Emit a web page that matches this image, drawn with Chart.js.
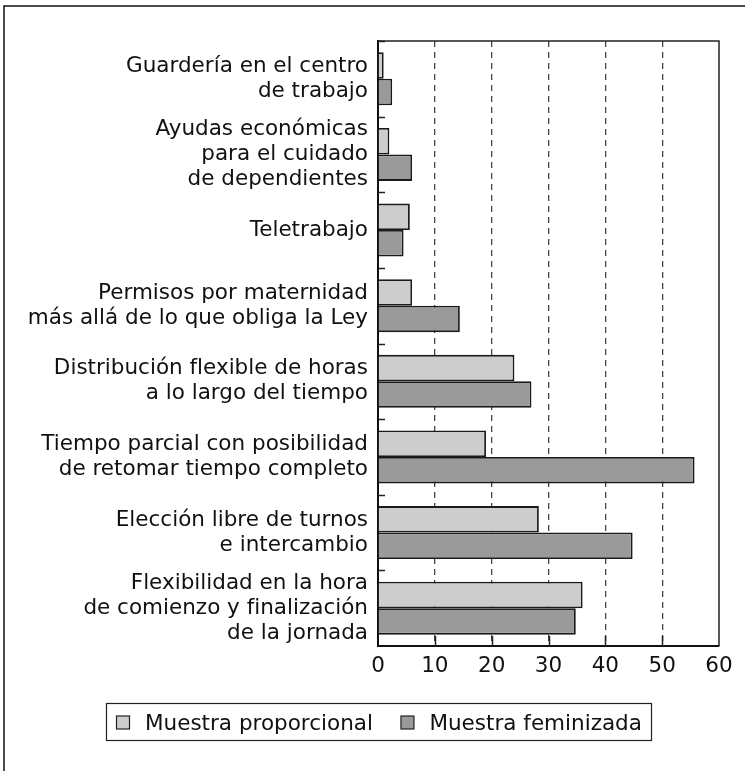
<!DOCTYPE html>
<html lang="es">
  <head>
    <meta charset="UTF-8" />
    <title>Medidas de conciliación</title>
    <script src="https://cdn.jsdelivr.net/npm/chart.js"></script>
    <style>
      body { margin: 0; background: #fff; }
      #wrap { position: relative; width: 745px; height: 771px; }
    </style>
  </head>
  <body>
    <div id="wrap">
      <canvas id="medidasChart"></canvas>
    </div>

    <script>
      // categorías (de arriba a abajo)
      const categorias = [
        ["Guardería en el centro", "de trabajo"],
        ["Ayudas económicas", "para el cuidado", "de dependientes"],
        "Teletrabajo",
        ["Permisos por maternidad", "más allá de lo que obliga la Ley"],
        ["Distribución flexible de horas", "a lo largo del tiempo"],
        ["Tiempo parcial con posibilidad", "de retomar tiempo completo"],
        ["Elección libre de turnos", "e intercambio"],
        ["Flexibilidad en la hora", "de comienzo y finalización", "de la jornada"],
      ];
      const muestraProporcional = [1, 2, 5.6, 6, 24, 19, 28.3, 36];
      const muestraFeminizada = [2.5, 6, 4.5, 14.4, 27, 55.7, 44.8, 34.8];
      const ticksX = [0, 10, 20, 30, 40, 50, 60];

      const FONT = "'DejaVu Sans', sans-serif";
      const FONT_SIZE = 21.5;
      Chart.defaults.font.family = FONT;
      Chart.defaults.color = "#111";

      // marco exterior, borde del área y marcas interiores
      const marcos = {
        id: "marcos",
        beforeDraw(chart) {
          const ctx = chart.ctx;
          ctx.save();
          ctx.strokeStyle = "#111";
          ctx.lineWidth = 1.5;
          ctx.beginPath();
          ctx.moveTo(4, chart.height);
          ctx.lineTo(4, 6);
          ctx.lineTo(chart.width, 6);
          ctx.stroke();
          ctx.restore();
        },
        afterDatasetsDraw(chart) {
          const { ctx, chartArea: a } = chart;
          const x = chart.scales.x;
          const y = chart.scales.y;
          ctx.save();
          ctx.strokeStyle = "#222";
          ctx.lineWidth = 1.5;
          ctx.beginPath();
          ctx.moveTo(a.left, a.top);
          ctx.lineTo(a.right, a.top);
          ctx.lineTo(a.right, a.bottom);
          ctx.stroke();

          // marcas del eje x hacia dentro
          ctx.beginPath();
          ticksX.slice(1, -1).forEach((v) => {
            const px = Math.round(x.getPixelForValue(v)) + 0.5;
            ctx.moveTo(px, a.bottom);
            ctx.lineTo(px, a.bottom - 10);
          });
          ctx.stroke();

          // marcas del eje y entre categorías
          ctx.beginPath();
          for (let i = 0; i < categorias.length; i++) {
            const py =
              i === 0
                ? a.top
                : (y.getPixelForTick(i - 1) + y.getPixelForTick(i)) / 2;
            ctx.moveTo(a.left, Math.round(py) + 0.5);
            ctx.lineTo(a.left + 7, Math.round(py) + 0.5);
          }
          ctx.stroke();
          ctx.restore();
        },
      };

      // leyenda con recuadro
      const leyenda = {
        id: "leyenda",
        afterDraw(chart) {
          const ctx = chart.ctx;
          const sets = chart.data.datasets;
          ctx.save();
          ctx.font = FONT_SIZE + "px " + FONT;
          const widths = sets.map((d) => ctx.measureText(d.label).width);
          const pad = 10, sw = 13, gapText = 15.5, gapItem = 28;
          let total = pad * 2 + gapItem * (sets.length - 1);
          widths.forEach((w) => (total += sw + gapText + w));
          const top = chart.chartArea.bottom + 57.5;
          let left = Math.round(chart.width / 2 + 6 - total / 2) + 0.5;
          ctx.strokeStyle = "#222";
          ctx.lineWidth = 1.2;
          ctx.strokeRect(left, top, Math.round(total), 37);
          let cx = left + pad;
          sets.forEach((d, i) => {
            ctx.fillStyle = d.backgroundColor;
            ctx.fillRect(cx, top + 12.5, sw, sw);
            ctx.strokeRect(cx, top + 12.5, sw, sw);
            ctx.fillStyle = "#111";
            ctx.textBaseline = "alphabetic";
            ctx.fillText(d.label, cx + sw + gapText, top + 26);
            cx += sw + gapText + widths[i] + gapItem;
          });
          ctx.restore();
        },
      };

      new Chart(document.getElementById("medidasChart"), {
        type: "bar",
        data: {
          labels: categorias,
          datasets: [
            {
              label: "Muestra proporcional",
              data: muestraProporcional,
              backgroundColor: "#cdcdcd",
              borderColor: "#1a1a1a",
              borderWidth: 1.8,
            },
            {
              label: "Muestra feminizada",
              data: muestraFeminizada,
              backgroundColor: "#9a9a9a",
              borderColor: "#1a1a1a",
              borderWidth: 1.8,
            },
          ],
        },
        options: {
          indexAxis: "y",
          responsive: true,
          maintainAspectRatio: false,
          animation: false,
          categoryPercentage: 0.7,
          barPercentage: 1,
          layout: { padding: { top: 41, right: 26, bottom: 0, left: 0 } },
          plugins: {
            legend: { display: false },
            tooltip: { enabled: false },
          },
          scales: {
            x: {
              min: 0,
              max: 60,
              afterFit: (s) => {
                s.height = 125;
                s.paddingLeft = 0;
                s.paddingRight = 0;
              },
              afterBuildTicks: (s) => (s.ticks = ticksX.map((v) => ({ value: v }))),
              ticks: {
                padding: 8,
                font: { size: FONT_SIZE, lineHeight: 1.163 },
                color: "#111",
              },
              grid: {
                drawTicks: false,
                lineWidth: 1.3,
                color: (c) =>
                  c.tick && c.tick.value > 0 && c.tick.value < 60 ? "#444" : "rgba(0,0,0,0)",
              },
              border: { display: true, color: "#111", width: 2, dash: [6, 5] },
            },
            y: {
              afterFit: (s) => {
                s.width = 378;
                s.paddingTop = 0;
                s.paddingBottom = 0;
              },
              ticks: {
                autoSkip: false,
                padding: 10,
                font: { size: FONT_SIZE, lineHeight: 1.163 },
                color: "#111",
              },
              grid: { display: false, drawTicks: false },
              border: { display: true, color: "#111", width: 2 },
            },
          },
        },
        plugins: [marcos, leyenda],
      });
    </script>
  </body>
</html>
